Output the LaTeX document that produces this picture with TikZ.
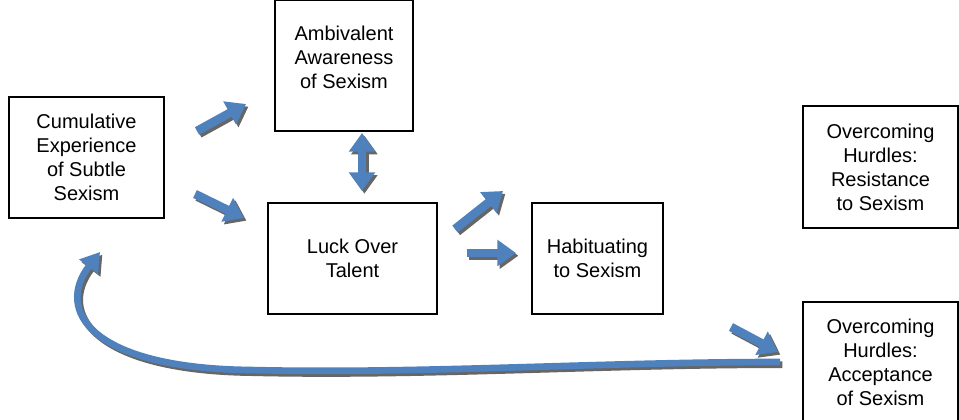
\documentclass[tikz,border=0pt]{standalone}
\usepackage{fontspec}
\setmainfont{Liberation Sans}
\usetikzlibrary{arrows.meta}
\definecolor{arrblue}{RGB}{79,129,189}

\begin{document}
\begin{tikzpicture}[x=0.75pt,y=0.75pt,yscale=-1,xscale=1,
	box/.style={draw, line width=1.1pt, align=center, inner sep=0.75pt, font=\fontsize{15pt}{18pt}\selectfont},
	txt/.style={align=center, inner sep=0.75pt, font=\fontsize{15pt}{18pt}\selectfont},
	bigarrow/.style={draw=arrblue, line width=6.5pt, -{Triangle[width=19pt,length=14pt]}},
	twoarrow/.style={draw=arrblue, line width=6.5pt, {Triangle[width=19pt,length=14pt]}-{Triangle[width=19pt,length=14pt]}},
	bentarrow/.style={draw=arrblue, line width=5pt, -{Triangle[width=17pt,length=14pt]}},
	arrshadow/.style={draw=black!60, transform canvas={shift={(1.8pt,-2pt)}}}]
	\useasboundingbox (0,0) rectangle (959,419);

	% Boxes
	\node[box, minimum width=116.25pt, minimum height=90.75pt] (cum) at (86.5,157.5) {Cumulative\\Experience\\of Subtle\\Sexism};
	\node[box, minimum width=103.5pt, minimum height=98.25pt] (amb) at (344,65.5) {};
	\node[txt] (ambtxt) at (344,57) {Ambivalent\\Awareness\\of Sexism};
	\node[box, minimum width=126.75pt, minimum height=83.25pt] (luck) at (352.5,258.5) {Luck Over\\Talent};
	\node[box, minimum width=98.25pt, minimum height=83.25pt] (hab) at (597.5,258.5) {Habituating\\to Sexism};
	\node[box, minimum width=116.25pt, minimum height=91.5pt] (res) at (880.5,167) {Overcoming\\Hurdles:\\Resistance\\to Sexism};
	\node[box, minimum width=116.25pt, minimum height=90pt] (acc) at (880.5,362) {Overcoming\\Hurdles:\\Acceptance\\of Sexism};

	% Arrow ends
	\coordinate (a1s) at (197,131);
	\coordinate (a1e) at (246,104);
	\coordinate (a2s) at (195,194);
	\coordinate (a2e) at (244,218);
	\coordinate (a3s) at (362,133);
	\coordinate (a3e) at (362,191);
	\coordinate (a4s) at (455,229);
	\coordinate (a4e) at (503,191);
	\coordinate (a5s) at (467,253);
	\coordinate (a5e) at (516,253);
	\coordinate (a6s) at (731,327);
	\coordinate (a6e) at (778,352);
	\coordinate (c1) at (780,362);
	\coordinate (c2) at (100,252);

	% Shadows
	\draw[bigarrow, arrshadow] (a1s) -- (a1e);
	\draw[bigarrow, arrshadow] (a2s) -- (a2e);
	\draw[twoarrow, arrshadow] (a3s) -- (a3e);
	\draw[bigarrow, arrshadow] (a4s) -- (a4e);
	\draw[bigarrow, arrshadow] (a5s) -- (a5e);
	\draw[bigarrow, arrshadow] (a6s) -- (a6e);
	\draw[bentarrow, arrshadow] (c1) .. controls (600,362) and (420,374) .. (250,370) .. controls (90,368) and (55,310) .. (c2);

	% Arrows
	\draw[bigarrow] (a1s) -- (a1e);
	\draw[bigarrow] (a2s) -- (a2e);
	\draw[twoarrow] (a3s) -- (a3e);
	\draw[bigarrow] (a4s) -- (a4e);
	\draw[bigarrow] (a5s) -- (a5e);
	\draw[bigarrow] (a6s) -- (a6e);
	\draw[bentarrow] (c1) .. controls (600,362) and (420,374) .. (250,370) .. controls (90,368) and (55,310) .. (c2);

\end{tikzpicture}
\end{document}
